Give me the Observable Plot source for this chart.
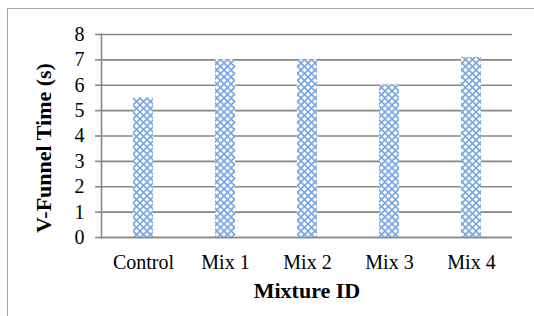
<!DOCTYPE html>
<html>
<head>
<meta charset="utf-8">
<script src="https://cdn.jsdelivr.net/npm/d3@7"></script>
<script src="https://cdn.jsdelivr.net/npm/@observablehq/plot@0.6"></script>
<style>
  html, body { margin: 0; padding: 0; background: #fff; }
  #wrap { position: relative; width: 534px; height: 316px; overflow: hidden; }
  #border { position: absolute; left: 7px; top: 8px; width: 540px; height: 320px; border: 1px solid #a6a6a6; box-sizing: border-box; pointer-events: none; }
</style>
</head>
<body>
<div id="wrap"><div id="border"></div></div>
<script>
const categories = ["Control", "Mix 1", "Mix 2", "Mix 3", "Mix 4"];
const values = [5.5, 7.0, 7.0, 6.0, 7.1];
const yTicks = [0, 1, 2, 3, 4, 5, 6, 7, 8];
const xTitle = "Mixture ID";
const yTitle = "V-Funnel Time (s)";

const data = categories.map((c, i) => ({category: c, value: values[i]}));
const font = "'Liberation Serif', 'Times New Roman', serif";

const chart = Plot.plot({
  width: 534,
  height: 316,
  marginLeft: 101,
  marginRight: 22,
  marginTop: 34,
  marginBottom: 79,
  style: {fontFamily: font, fontSize: "20px", color: "#000", background: "transparent"},
  x: {domain: categories, paddingInner: 0.76, paddingOuter: 0.38},
  y: {domain: [0, 8]},
  marks: [
    Plot.gridY(yTicks, {stroke: "#878787", strokeOpacity: 1, strokeWidth: 1.6}),
    Plot.barY(data, {x: "category", y: "value", fill: "url(#hatch)"}),
    Plot.axisY(yTicks, {tickSize: 6, tickPadding: 11, stroke: "#878787", strokeWidth: 1.6, fontSize: 20, label: null, tickFormat: d => String(d)}),
    Plot.axisX({tickSize: 0, tickPadding: 17, fontSize: 20, label: null}),
    Plot.frame({anchor: "left", stroke: "#878787", strokeWidth: 1.6}),
    Plot.ruleY([0], {stroke: "#878787", strokeWidth: 1.6}),
    Plot.text([xTitle], {frameAnchor: "bottom", dy: 60, fontSize: 22, fontWeight: "bold", fill: "#000"}),
    Plot.text([yTitle], {frameAnchor: "left", textAnchor: "middle", dx: -58, dy: 12, rotate: -90, fontSize: 22, fontWeight: "bold", fill: "#000"})
  ]
});

// pattern definition for bar fill
const ns = "http://www.w3.org/2000/svg";
const defs = document.createElementNS(ns, "defs");
defs.innerHTML = `
  <pattern id="hatch" patternUnits="userSpaceOnUse" width="7" height="7">
    <rect width="7" height="7" fill="#ffffff"/>
    <path d="M0,0 L7,7 M7,0 L0,7" stroke="#7aa6e2" stroke-width="1.6" fill="none"/>
    <path d="M-1,6 L1,8 M6,-1 L8,1 M-1,1 L1,-1 M6,8 L8,6" stroke="#7aa6e2" stroke-width="1.6" fill="none"/>
  </pattern>`;
chart.insertBefore(defs, chart.firstChild);
chart.style.position = "absolute";
chart.style.left = "0";
chart.style.top = "0";
document.getElementById("wrap").appendChild(chart);
</script>
</body>
</html>
